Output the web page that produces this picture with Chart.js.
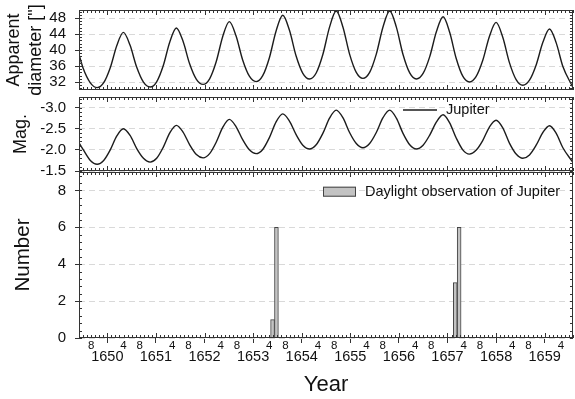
<!DOCTYPE html>
<html>
<head>
<meta charset="utf-8">
<script src="https://cdn.jsdelivr.net/npm/chart.js@4"></script>
<style>
  body { margin: 0; background: #fff; }
  #wrap { position: relative; width: 575px; height: 399px; overflow: hidden; }
  canvas { position: absolute; left: 0; }
</style>
</head>
<body>
<div id="wrap">
  <canvas id="diamChart" width="575" height="96" style="top:0px"></canvas>
  <canvas id="magChart" width="575" height="90" style="top:90px"></canvas>
  <canvas id="obsChart" width="575" height="237" style="top:162px"></canvas>
</div>
<script>
// Jupiter 1649-1659: apparent diameter, magnitude and daylight sightings
const years = [
  1649.40, 1649.50, 1649.65,
  1649.79, 1649.925, 1650.06, 1650.195,
  1650.33, 1650.468, 1650.605, 1650.743,
  1650.88, 1651.015, 1651.15, 1651.285,
  1651.42, 1651.558, 1651.695, 1651.833,
  1651.97, 1652.105, 1652.24, 1652.375,
  1652.51, 1652.648, 1652.785, 1652.923,
  1653.06, 1653.198, 1653.335, 1653.473,
  1653.61, 1653.748, 1653.885, 1654.023,
  1654.16, 1654.298, 1654.435, 1654.573,
  1654.71, 1654.848, 1654.985, 1655.123,
  1655.26, 1655.398, 1655.535, 1655.673,
  1655.81, 1655.948, 1656.085, 1656.223,
  1656.36, 1656.498, 1656.635, 1656.773,
  1656.91, 1657.045, 1657.18, 1657.315,
  1657.45, 1657.588, 1657.725, 1657.863,
  1658.00, 1658.138, 1658.275, 1658.413,
  1658.55, 1658.688, 1658.825, 1658.963,
  1659.10, 1659.238, 1659.375, 1659.57];
const diameter = [
  39.6, 35.5, 31.8,
  30.6, 31.83, 35.57, 41.13,
  44.4, 41.16, 35.66, 31.96,
  30.75, 32.06, 36.06, 42.0,
  45.5, 42.16, 36.48, 32.65,
  31.4, 32.8, 37.05, 43.38,
  47.1, 43.55, 37.5, 33.44,
  32.1, 33.58, 38.08, 44.77,
  48.7, 44.92, 38.49, 34.17,
  32.75, 34.26, 38.87, 45.72,
  49.75, 45.76, 38.97, 34.4,
  32.9, 34.4, 38.97, 45.76,
  49.75, 45.72, 38.87, 34.26,
  32.75, 34.13, 38.35, 44.61,
  48.3, 44.44, 37.87, 33.45,
  32.0, 33.33, 37.36, 43.37,
  46.9, 43.18, 36.85, 32.6,
  31.2, 32.45, 36.26, 41.92,
  45.25, 41.78, 35.87, 30.9];
const magnitude = [
  -2.20, -2.01, -1.75,
  -1.66, -1.75, -2.00, -2.33,
  -2.50, -2.34, -2.03, -1.80,
  -1.71, -1.80, -2.06, -2.40,
  -2.58, -2.42, -2.12, -1.89,
  -1.81, -1.91, -2.18, -2.53,
  -2.72, -2.55, -2.24, -2.00,
  -1.91, -2.01, -2.29, -2.66,
  -2.85, -2.68, -2.36, -2.11,
  -2.02, -2.12, -2.39, -2.75,
  -2.94, -2.76, -2.41, -2.15,
  -2.05, -2.15, -2.41, -2.76,
  -2.94, -2.75, -2.39, -2.12,
  -2.02, -2.11, -2.35, -2.66,
  -2.83, -2.64, -2.28, -2.00,
  -1.90, -1.99, -2.22, -2.54,
  -2.70, -2.52, -2.16, -1.90,
  -1.80, -1.88, -2.11, -2.41,
  -2.57, -2.39, -2.05, -1.72];
const obsYears = [1653.40, 1653.48, 1657.16, 1657.24];
const obsCounts = [1, 6, 3, 6];

const diamTicks = [32, 36, 40, 44, 48];
const magTicks = [-3.0, -2.5, -2.0, -1.5];
const countTicks = [0, 2, 4, 6, 8];
const yearLabels = [1650, 1651, 1652, 1653, 1654, 1655, 1656, 1657, 1658, 1659];
const monthLabels = [4, 8];

const X_MIN = 1649 + 5 / 12;
const X_MAX = 1659 + 7 / 12;

Chart.defaults.font.family = '"Liberation Sans", Arial, sans-serif';
Chart.defaults.color = '#111';

// x tick positions: every year plus months 4 and 8
const xTickValues = [];
[1649].concat(yearLabels).forEach(y => {
  if (y >= X_MIN) xTickValues.push(y);
  monthLabels.forEach(m => {
    const v = y + m / 12;
    if (v >= X_MIN && v <= X_MAX) xTickValues.push(v);
  });
});
xTickValues.sort((a, b) => a - b);

function monthOf(v) {
  return Math.round((v - Math.floor(v + 1e-6)) * 12);
}
function isYearTick(c) {
  return !!(c && c.tick && monthOf(c.tick.value) === 0);
}

// frame around each panel with small inside ticks
const frameTicks = {
  id: 'frameTicks',
  afterDraw(chart, args, opts) {
    const { ctx, chartArea: a, scales } = chart;
    const x = scales.x, y = scales.y;
    ctx.save();
    ctx.strokeStyle = '#333';
    ctx.lineWidth = 1;
    ctx.beginPath();
    for (let m = Math.ceil(x.min * 12); m <= Math.floor(x.max * 12); m++) {
      const px = Math.round(x.getPixelForValue(m / 12)) + 0.5;
      const len = m % 12 === 0 ? 5 : 3;
      ctx.moveTo(px, a.top); ctx.lineTo(px, a.top + len);
      ctx.moveTo(px, a.bottom); ctx.lineTo(px, a.bottom - len);
    }
    const lo = Math.min(y.min, y.max), hi = Math.max(y.min, y.max);
    const step = opts.minor;
    for (let k = Math.ceil(lo / step - 1e-6); k * step <= hi + 1e-6; k++) {
      const py = Math.round(y.getPixelForValue(k * step)) + 0.5;
      ctx.moveTo(a.left, py); ctx.lineTo(a.left + 3, py);
      ctx.moveTo(a.right, py); ctx.lineTo(a.right - 3, py);
    }
    ctx.stroke();
    ctx.strokeRect(a.left + 0.5, a.top + 0.5, a.right - a.left - 1, a.bottom - a.top - 1);
    ctx.restore();
  }
};

// legend entry drawn inside the plot area
const panelLegend = {
  id: 'panelLegend',
  afterDatasetsDraw(chart, args, opts) {
    if (!opts.kind) return;
    const ctx = chart.ctx;
    const ds = chart.data.datasets[0];
    ctx.save();
    if (opts.kind === 'line') {
      ctx.strokeStyle = ds.borderColor;
      ctx.lineWidth = ds.borderWidth;
      ctx.beginPath();
      ctx.moveTo(opts.x, opts.y); ctx.lineTo(opts.x + 34, opts.y);
      ctx.stroke();
    } else {
      ctx.fillStyle = ds.backgroundColor;
      ctx.fillRect(opts.x, opts.y - 5, 33, 10);
      ctx.strokeStyle = ds.borderColor;
      ctx.lineWidth = 1;
      ctx.strokeRect(opts.x + 0.5, opts.y - 4.5, 32, 9);
    }
    ctx.fillStyle = '#111';
    ctx.font = '14.5px "Liberation Sans", Arial, sans-serif';
    ctx.textBaseline = 'middle';
    ctx.fillText(ds.label, opts.textX, opts.y);
    ctx.restore();
  }
};

function yScale(ticks, min, max, title, titleFont, titlePad, fmt) {
  return {
    type: 'linear',
    min: min,
    max: max,
    afterBuildTicks: s => { s.ticks = ticks.map(v => ({ value: v })); },
    afterFit: s => { s.width = 79; s.paddingTop = 0; s.paddingBottom = 0; },
    ticks: { autoSkip: false, padding: 9, font: { size: 15 }, callback: fmt || (v => v) },
    grid: { color: '#d9d9d9', lineWidth: 1, drawTicks: true, tickLength: 4, tickColor: '#333' },
    border: { display: false, dash: [6, 4] },
    title: { display: true, text: title, font: { size: titleFont, lineHeight: 1.2 }, padding: { top: titlePad, bottom: 0 } }
  };
}

const hiddenX = { type: 'linear', min: X_MIN, max: X_MAX, display: false };

function curve(label, values) {
  return {
    label: label,
    data: years.map((x, i) => ({ x: x, y: values[i] })),
    borderColor: '#1c1c1c',
    borderWidth: 1.4,
    pointRadius: 0,
    cubicInterpolationMode: 'monotone'
  };
}

const diamChart = new Chart(document.getElementById('diamChart'), {
  type: 'line',
  data: { datasets: [curve('Jupiter', diameter)] },
  options: {
    responsive: false,
    animation: false,
    layout: { padding: { top: 10, bottom: 6, left: 0, right: 2 } },
    scales: {
      x: hiddenX,
      y: yScale(diamTicks, 30, 50, ['Apparent', 'diameter ["]'], 18, 3.7)
    },
    plugins: { legend: { display: false }, tooltip: { enabled: false }, frameTicks: { minor: 0.8 } }
  },
  plugins: [frameTicks, panelLegend]
});

const magChart = new Chart(document.getElementById('magChart'), {
  type: 'line',
  data: { datasets: [curve('Jupiter', magnitude)] },
  options: {
    responsive: false,
    animation: false,
    layout: { padding: { top: 7, bottom: 9, left: 0, right: 2 } },
    scales: {
      x: hiddenX,
      y: Object.assign(yScale(magTicks, -3.25, -1.5, 'Mag.', 18, 10.7, v => v.toFixed(1)), { reverse: true })
    },
    plugins: {
      legend: { display: false },
      tooltip: { enabled: false },
      frameTicks: { minor: 0.1 },
      panelLegend: { kind: 'line', x: 403, y: 20, textX: 446 }
    }
  },
  plugins: [frameTicks, panelLegend]
});

const obsChart = new Chart(document.getElementById('obsChart'), {
  type: 'bar',
  data: {
    datasets: [{
      label: 'Daylight observation of Jupiter',
      data: obsYears.map((x, i) => ({ x: x, y: obsCounts[i] })),
      backgroundColor: '#c3c3c3',
      borderColor: '#444',
      borderWidth: 1,
      barPercentage: 1,
      categoryPercentage: 1
    }]
  },
  options: {
    responsive: false,
    animation: false,
    layout: { padding: { top: 10, bottom: 0, left: 0, right: 2 } },
    scales: {
      x: {
        type: 'linear',
        min: X_MIN,
        max: X_MAX,
        offset: false,
        afterBuildTicks: s => { s.ticks = xTickValues.map(v => ({ value: v })); },
        afterFit: s => { s.height = 61; s.paddingLeft = 0; s.paddingRight = 0; },
        ticks: {
          autoSkip: false,
          maxRotation: 0,
          padding: -4,
          callback: v => monthOf(v) === 0 ? ['', String(Math.round(v))] : String(monthOf(v)),
          font: c => isYearTick(c) ? { size: 14.5, lineHeight: 0.85 } : { size: 11.5, lineHeight: 1.2 }
        },
        grid: {
          offset: false,
          drawOnChartArea: false,
          drawTicks: true,
          tickLength: 5,
          tickColor: c => isYearTick(c) ? '#333' : 'rgba(0,0,0,0)'
        },
        border: { display: false },
        title: { display: true, text: 'Year', font: { size: 22 }, padding: { top: 0, bottom: 1 } }
      },
      y: yScale(countTicks, 0, 9, 'Number', 20.5, 11.5)
    },
    plugins: {
      legend: { display: false },
      tooltip: { enabled: false },
      frameTicks: { minor: 0.4 },
      panelLegend: { kind: 'box', x: 323, y: 29.7, textX: 365 }
    }
  },
  plugins: [frameTicks, panelLegend]
});
</script>
</body>
</html>
